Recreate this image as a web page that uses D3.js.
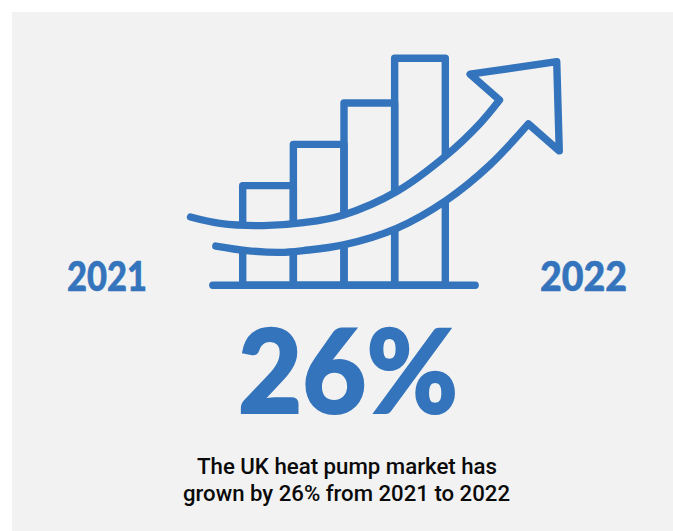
<!DOCTYPE html>
<html>
<head>
<meta charset="utf-8">
<script src="https://cdn.jsdelivr.net/npm/d3@7"></script>
<style>
html, body { margin: 0; padding: 0; background: #fff; }
svg { display: block; }
text { font-family: Lato, Roboto, sans-serif; }
text.caption { font-family: Roboto, "Noto Sans", sans-serif; }
</style>
</head>
<body>
<div id="chart"></div>
<script>
// Bar heights of the rising market icon, on a 0-100 index
const barValues = [43.9, 62.1, 80.3, 100];

// Arrow outline in bar-index units: [bar edge, index value]
const arrowUpperCurve = [[-1.03,30.1],[-0.45,27.3],[0.41,26.3],[1.20,27.6],[1.99,31.0],[3.04,41.3],[4.03,57.4],[4.69,71.4],[5.07,81.6]];
const arrowHead = [[5.07,81.6],[4.49,93.0],[6.20,98.5],[6.25,59.2],[5.64,71.1]];
const arrowLowerCurve = [[5.64,71.1],[4.88,53.0],[4.03,37.6],[3.04,25.1],[1.99,17.8],[1.20,15.3],[0.74,14.5],[0.08,15.3],[-0.53,17.3]];
const baselineExtent = [-0.59, 4.59];

const startYear = "2021";
const endYear = "2022";
const headline = "26%";
const captionLines = ["The UK heat pump market has", "grown by 26% from 2021 to 2022"];

const width = 673, height = 531;
const blue = "#3474bc", panel = "#f2f2f2";

const svg = d3.select("#chart").append("svg")
  .attr("width", width).attr("height", height);

svg.append("rect")
  .attr("x", 12).attr("y", 12)
  .attr("width", width - 12).attr("height", height - 12)
  .attr("fill", panel);

const x = d3.scaleLinear().domain([0, 4]).range([242.7, 445.3]);
const y = d3.scaleLinear().domain([0, 100]).range([285.3, 58.3]);

const icon = svg.append("g")
  .attr("stroke", blue).attr("stroke-width", 7.4)
  .attr("stroke-linejoin", "round").attr("stroke-linecap", "round");

icon.selectAll("rect.bar").data(barValues).join("rect")
  .attr("class", "bar")
  .attr("x", (d, i) => x(i))
  .attr("y", d => y(d))
  .attr("width", (d, i) => x(i + 1) - x(i))
  .attr("height", d => y(0) - y(d))
  .attr("fill", "none");

icon.append("line")
  .attr("x1", x(baselineExtent[0])).attr("x2", x(baselineExtent[1]))
  .attr("y1", y(0)).attr("y2", y(0));

// The arrow body is filled with the panel colour so it masks the bars behind it
const curved = d3.line().x(d => x(d[0])).y(d => y(d[1])).curve(d3.curveCatmullRom.alpha(0.5));
const straight = d3.line().x(d => x(d[0])).y(d => y(d[1]));
const joined = curved(arrowUpperCurve)
  + straight(arrowHead).replace(/^M/, "L")
  + curved(arrowLowerCurve).replace(/^M/, "L");
icon.append("path").attr("d", joined).attr("fill", panel);

const yearLabels = [
  { text: startYear, x: 67, len: 80 },
  { text: endYear, x: 540, len: 87 }
];
svg.selectAll("text.year").data(yearLabels).join("text")
  .attr("class", "year")
  .attr("x", d => d.x).attr("y", 291)
  .attr("textLength", d => d.len).attr("lengthAdjust", "spacingAndGlyphs")
  .attr("font-size", 41).attr("font-weight", 900).attr("fill", blue)
  .attr("stroke", blue).attr("stroke-width", 0.6)
  .text(d => d.text);

svg.append("text")
  .attr("x", 238).attr("y", 413)
  .attr("textLength", 220).attr("lengthAdjust", "spacingAndGlyphs")
  .attr("font-size", 117).attr("font-weight", 900).attr("fill", blue)
  .attr("stroke", blue).attr("stroke-width", 2)
  .text(headline);

const captionLayout = [{ x: 197, y: 474, len: 300 }, { x: 183, y: 501, len: 327 }];
svg.selectAll("text.caption").data(captionLines).join("text")
  .attr("class", "caption")
  .attr("x", (d, i) => captionLayout[i].x).attr("y", (d, i) => captionLayout[i].y)
  .attr("textLength", (d, i) => captionLayout[i].len).attr("lengthAdjust", "spacingAndGlyphs")
  .attr("font-size", 21.5).attr("font-weight", 500).attr("fill", "#0a0a0a")
  .text(d => d);
</script>
</body>
</html>
